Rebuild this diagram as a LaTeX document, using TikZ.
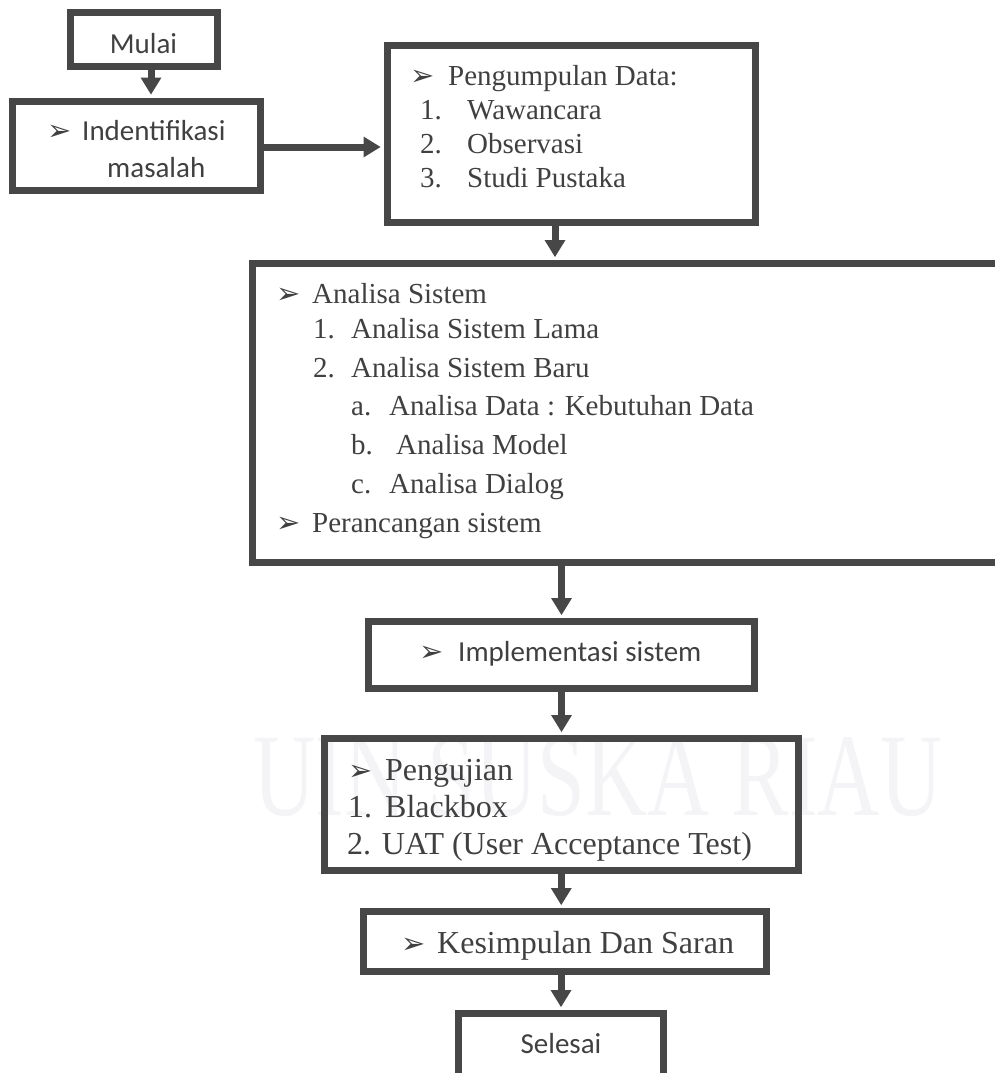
\documentclass[tikz,border=0pt]{standalone}
\usepackage{fontspec}
\usetikzlibrary{arrows.meta}
\setmainfont{Liberation Serif}
\newfontfamily\calfont{Carlito}
\newfontfamily\tnrfont{Liberation Serif}
\newfontfamily\symfont{DejaVu Sans}
\definecolor{ln}{HTML}{474747}
\definecolor{tx}{HTML}{404040}
\definecolor{wm}{HTML}{F4F4F7}
\tikzset{
  box/.style={draw=ln, line width=7pt, rectangle, inner sep=0pt},
  arr/.style={draw=ln, line width=7pt, -{Triangle[length=17pt, width=21pt, line width=0pt]}, shorten >=3pt},
  cal/.style={font=\calfont\fontsize{29}{29}\selectfont, text=tx, inner sep=0pt, anchor=base west},
  tnr/.style={font=\tnrfont\fontsize{29}{29}\selectfont, text=tx, inner sep=0pt, anchor=base west},
  tnrb/.style={font=\tnrfont\fontsize{32}{32}\selectfont, text=tx, inner sep=0pt, anchor=base west},
  bul/.style={font=\symfont\fontsize{29}{29}\selectfont, text=tx, inner sep=0pt, anchor=base west},
}
\begin{document}
\begin{tikzpicture}[x=1pt, y=-1pt]
\useasboundingbox (0,0) rectangle (995,1073);
\clip (0,0) rectangle (995,1073);
% watermark
\node[font=\tnrfont\fontsize{118}{118}\selectfont, text=wm, inner sep=0pt, anchor=base west] (wmark) at (253,815) {\scalebox{0.73}[1]{UIN SUSKA RIAU}};
% boxes
\node[box, minimum width=147.5pt, minimum height=54.5pt] (mulai) at (144,39.5) {};
\node[box, minimum width=248pt, minimum height=89pt] (ident) at (136,145.5) {};
\node[box, minimum width=368pt, minimum height=176pt] (peng) at (571,134) {};
\node[box, minimum width=767.5pt, minimum height=299pt] (anal) at (636.25,413) {};
\node[box, minimum width=386pt, minimum height=67pt] (impl) at (561.5,655) {};
\node[box, minimum width=473.5pt, minimum height=132pt] (uji) at (561.25,804.5) {};
\node[box, minimum width=403pt, minimum height=60pt] (kes) at (565,941.5) {};
\node[box, minimum width=205pt, minimum height=86.5pt] (sel) at (561,1056.75) {};
% connectors
\draw[arr] ([xshift=7pt]mulai.south) -- ([xshift=7pt]mulai.south |- ident.north);
\draw[arr] ([yshift=-1.5pt]ident.east) -- ([yshift=-1.5pt]ident.east -| peng.west);
\draw[arr] ([xshift=-16pt]peng.south) -- ([xshift=-16pt]peng.south |- anal.north);
\draw[arr] (anal.south -| impl.north) -- (impl.north);
\draw[arr] (impl.south) -- (impl.south |- uji.north);
\draw[arr] (uji.south) -- (uji.south |- kes.north);
\draw[arr] (kes.south -| sel.north) -- (sel.north);
% texts
\node[cal, anchor=base] (tmulai) at (143.5,53) {Mulai};
\node[bul] (bid) at (47,140) {➢};
\node[cal] (tid1) at (82,140) {Indentifikasi};
\node[cal] (tid2) at (107,177) {masalah};
%
\node[bul] (bpg) at (410,85) {➢};
\node[tnr] (tpg0) at (448,85) {Pengumpulan Data:};
\node[tnr] (npg1) at (420,119.5) {1.};
\node[tnr] (tpg1) at (467,119.5) {Wawancara};
\node[tnr] (npg2) at (420,153) {2.};
\node[tnr] (tpg2) at (467,153) {Observasi};
\node[tnr] (npg3) at (420,187) {3.};
\node[tnr] (tpg3) at (467,187) {Studi Pustaka};
%
\node[bul] (ban1) at (276,303) {➢};
\node[tnr] (tan0) at (312,303) {Analisa Sistem};
\node[tnr] (nan1) at (313,338) {1.};
\node[tnr] (tan1) at (351,338) {Analisa Sistem Lama};
\node[tnr] (nan2) at (313,377) {2.};
\node[tnr] (tan2) at (351,377) {Analisa Sistem Baru};
\node[tnr] (nana) at (351,415) {a.};
\node[tnr] (tana) at (389,415) {Analisa Data : Kebutuhan Data};
\node[tnr] (nanb) at (351,454) {b.};
\node[tnr] (tanb) at (396,454) {Analisa Model};
\node[tnr] (nanc) at (351,493) {c.};
\node[tnr] (tanc) at (389,493) {Analisa Dialog};
\node[bul] (ban2) at (276,532) {➢};
\node[tnr] (tan3) at (312,532) {Perancangan sistem};
%
\node[bul] (bim) at (419,661) {➢};
\node[cal] (tim) at (458,661) {Implementasi sistem};
%
\node[bul] (buj) at (348,780) {➢};
\node[tnrb] (tuj0) at (385,780) {Pengujian};
\node[tnrb] (nuj1) at (348,817) {1.};
\node[tnrb] (tuj1) at (385,817) {Blackbox};
\node[tnrb] (tuj2) at (347,854) {2. UAT (User Acceptance Test)};
%
\node[bul] (bks) at (401,953) {➢};
\node[tnrb] (tks) at (437,953) {Kesimpulan Dan Saran};
%
\node[cal, anchor=base] (tsel) at (561,1053) {Selesai};
\end{tikzpicture}
\end{document}
